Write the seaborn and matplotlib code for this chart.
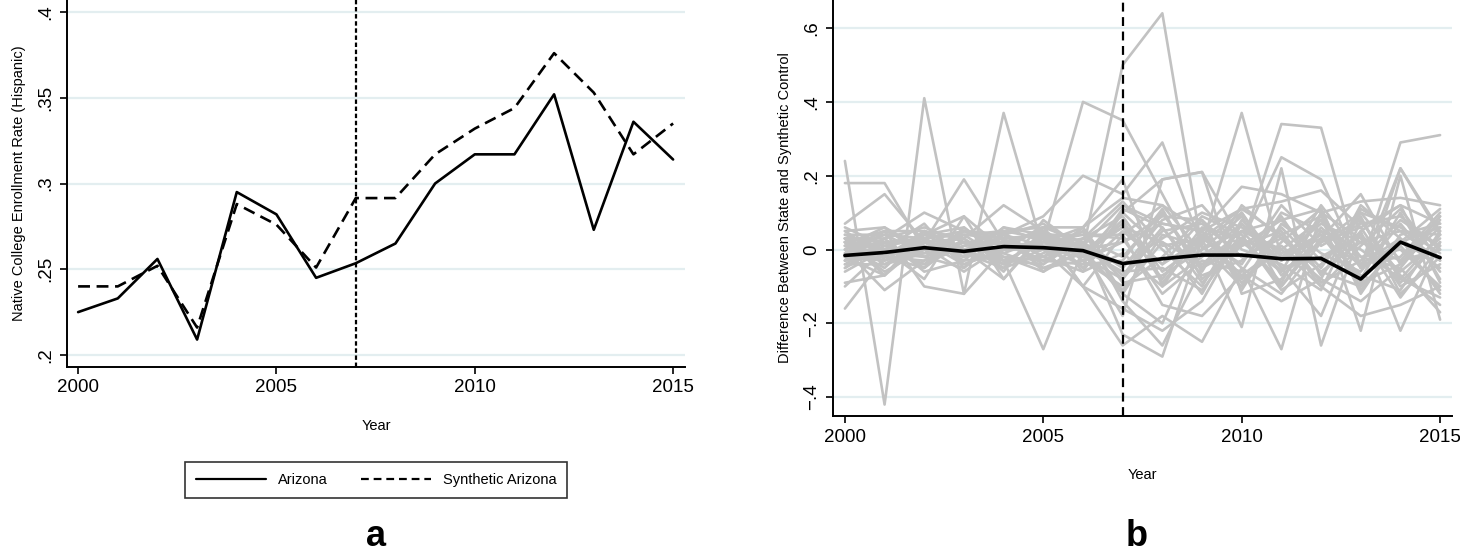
import numpy as np
import pandas as pd
import matplotlib
matplotlib.use("Agg")
import matplotlib.pyplot as plt
from matplotlib.lines import Line2D
import seaborn as sns

# données
years = list(range(2000, 2016))
arizona = [0.225, 0.233, 0.256, 0.209, 0.295, 0.282, 0.245, 0.2535,
           0.265, 0.300, 0.317, 0.317, 0.352, 0.273, 0.336, 0.314]
synthetic_arizona = [0.240, 0.240, 0.252, 0.216, 0.288, 0.276, 0.251, 0.2915,
                     0.2915, 0.317, 0.332, 0.344, 0.376, 0.353, 0.317, 0.335]
arizona_gap = [-0.016, -0.008, 0.005, -0.005, 0.008, 0.005, -0.003, -0.038,
               -0.025, -0.015, -0.015, -0.025, -0.024, -0.080, 0.020, -0.022]

# écarts placebo (un état par ligne)
placebo_gaps = [
    [0.24, -0.42, 0.41, -0.12, 0.37, 0.00, 0.02, -0.08, 0.10, -0.05, 0.03, -0.10, 0.05, 0.00, -0.08, 0.04],
    [0.18, 0.18, 0.00, 0.04, -0.03, 0.02, -0.01, 0.06, -0.04, 0.08, -0.02, 0.03, -0.06, 0.02, 0.05, -0.03],
    [0.07, 0.15, 0.02, 0.19, 0.02, 0.05, -0.02, 0.10, 0.19, 0.21, 0.02, 0.25, 0.19, -0.05, 0.22, 0.04],
    [-0.16, -0.02, 0.05, 0.03, 0.12, 0.05, 0.00, -0.12, -0.20, 0.04, -0.08, 0.00, 0.08, -0.02, 0.00, -0.10],
    [0.00, -0.11, -0.03, 0.02, -0.03, -0.27, 0.00, 0.50, 0.64, 0.00, 0.05, -0.06, 0.02, 0.10, -0.03, 0.00],
    [0.02, 0.05, -0.10, -0.12, 0.00, 0.02, 0.40, 0.35, 0.15, -0.05, 0.01, 0.34, 0.33, -0.05, 0.29, 0.31],
    [-0.05, 0.03, 0.10, 0.05, 0.04, 0.09, 0.20, 0.15, 0.29, 0.01, 0.37, -0.02, 0.03, 0.15, -0.04, 0.09],
    [0.03, -0.07, 0.04, 0.09, -0.08, 0.05, -0.10, -0.26, -0.18, -0.25, -0.05, -0.27, 0.10, -0.22, 0.20, -0.19],
    [-0.10, 0.00, 0.07, -0.05, 0.05, 0.06, 0.02, -0.23, -0.29, 0.03, -0.21, 0.22, -0.26, 0.05, -0.22, 0.02],
    [0.01, 0.06, -0.02, 0.04, 0.03, -0.04, 0.06, 0.19, -0.10, -0.02, 0.07, -0.03, 0.04, -0.10, 0.22, 0.05],
    [-0.03, 0.02, -0.05, 0.03, -0.06, 0.08, 0.00, -0.18, 0.19, 0.21, -0.12, -0.08, 0.06, -0.04, 0.03, -0.12],
    [0.03, -0.04, 0.02, -0.02, 0.04, -0.02, 0.06, -0.14, -0.26, -0.05, 0.10, -0.05, -0.18, 0.08, -0.07, -0.15],
    [0.02, 0.01, 0.03, -0.02, 0.04, 0.01, 0.00, 0.06, 0.02, -0.04, 0.05, 0.08, -0.03, 0.04, -0.06, 0.03],
    [-0.02, -0.03, 0.00, 0.02, -0.01, 0.03, -0.02, -0.08, 0.05, 0.07, -0.02, 0.04, 0.09, -0.05, 0.02, 0.06],
    [0.04, 0.00, -0.04, 0.01, 0.02, -0.03, 0.03, 0.09, -0.06, 0.02, 0.10, -0.07, 0.02, 0.06, -0.10, -0.04],
    [-0.04, 0.02, 0.02, -0.04, 0.00, 0.00, -0.04, -0.03, 0.11, -0.08, 0.01, 0.05, -0.09, -0.03, 0.08, 0.01],
    [0.01, -0.05, 0.05, 0.00, -0.04, 0.04, 0.01, 0.12, 0.07, 0.05, -0.09, 0.02, 0.11, -0.12, 0.04, 0.07],
    [-0.01, 0.04, -0.01, 0.05, 0.03, -0.05, -0.03, -0.10, -0.02, 0.09, 0.04, -0.11, -0.04, 0.09, -0.12, -0.02],
    [0.03, 0.03, -0.06, -0.03, 0.06, 0.02, 0.04, 0.03, -0.12, -0.03, -0.06, 0.10, 0.05, -0.08, 0.10, -0.08],
    [-0.03, -0.02, 0.04, 0.06, -0.02, -0.06, 0.02, -0.05, 0.08, 0.12, 0.00, -0.04, -0.11, 0.11, 0.05, 0.04],
    [0.00, 0.05, 0.01, -0.06, 0.01, 0.06, -0.06, 0.10, 0.00, -0.10, 0.08, -0.02, 0.07, 0.02, -0.03, 0.09],
    [0.05, -0.02, -0.03, 0.02, -0.05, -0.01, 0.05, -0.12, 0.04, 0.01, -0.10, 0.07, -0.01, -0.06, 0.07, -0.06],
    [-0.05, 0.01, 0.03, 0.04, 0.05, 0.03, -0.01, 0.07, -0.08, 0.06, 0.03, -0.09, 0.10, 0.03, -0.09, 0.02],
    [0.02, -0.06, 0.00, -0.01, -0.03, -0.04, 0.03, -0.02, 0.10, -0.06, 0.12, 0.03, -0.06, -0.10, 0.01, -0.11],
    [-0.02, 0.03, 0.06, 0.02, 0.02, 0.05, -0.05, 0.05, -0.04, 0.03, -0.04, 0.12, 0.01, 0.07, 0.09, 0.00],
    [0.01, -0.01, -0.02, -0.05, 0.04, -0.02, 0.02, -0.07, 0.06, -0.09, 0.02, -0.06, 0.12, -0.02, -0.05, 0.08],
    [0.03, 0.02, 0.02, 0.03, -0.04, 0.00, -0.02, 0.08, -0.09, 0.04, -0.07, 0.01, -0.08, 0.12, 0.03, -0.05],
    [-0.04, -0.04, -0.01, 0.00, 0.03, 0.04, 0.01, -0.04, 0.03, 0.10, 0.06, -0.01, 0.04, -0.07, -0.11, 0.05],
    [0.04, 0.04, 0.03, -0.03, -0.02, -0.03, -0.04, 0.11, 0.06, -0.07, -0.03, 0.09, -0.07, 0.05, 0.12, -0.09],
    [-0.06, 0.00, -0.04, 0.05, 0.01, 0.02, 0.06, -0.09, -0.07, 0.00, 0.09, -0.10, 0.03, -0.04, -0.02, 0.10],
    [0.00, -0.03, 0.04, -0.01, -0.05, 0.05, -0.03, 0.02, 0.09, 0.08, -0.11, 0.06, -0.05, 0.10, 0.06, -0.01],
    [0.06, 0.01, -0.02, 0.01, 0.05, -0.06, 0.00, -0.06, -0.05, -0.11, 0.03, -0.03, 0.08, -0.09, -0.04, 0.06],
    [-0.03, 0.05, 0.05, -0.04, 0.00, 0.01, 0.03, 0.13, 0.01, 0.03, 0.11, 0.04, -0.10, 0.01, 0.11, -0.03],
    [0.02, -0.02, -0.05, 0.06, -0.03, -0.02, -0.06, -0.01, -0.10, 0.05, -0.05, -0.12, 0.02, 0.08, -0.08, -0.13],
    [-0.01, 0.00, 0.01, -0.02, 0.06, 0.04, 0.04, 0.04, 0.12, -0.01, 0.01, 0.08, 0.11, -0.11, 0.02, 0.11],
    [0.05, 0.06, 0.00, 0.00, -0.01, -0.05, -0.01, -0.11, 0.02, -0.12, 0.07, -0.05, -0.02, 0.04, -0.13, 0.01],
    [-0.09, -0.07, 0.05, 0.00, 0.02, 0.00, -0.10, -0.16, -0.22, -0.14, 0.05, 0.00, -0.10, -0.18, -0.15, -0.10],
    [0.02, 0.00, -0.08, 0.09, 0.00, 0.06, 0.06, 0.14, 0.12, 0.05, 0.17, 0.15, 0.10, 0.13, 0.14, 0.12],
    [-0.02, -0.07, 0.02, 0.00, -0.08, 0.04, -0.10, 0.04, -0.15, -0.18, -0.07, -0.14, -0.08, -0.14, -0.05, -0.17],
    [0.03, 0.02, 0.03, 0.05, 0.04, 0.07, 0.00, 0.02, 0.07, 0.05, 0.11, 0.13, 0.16, 0.06, 0.12, 0.07],
]

treat_year = 2007
left_ticks = [0.2, 0.25, 0.3, 0.35, 0.4]
left_ticklabels = [".2", ".25", ".3", ".35", ".4"]
right_ticks = [-0.4, -0.2, 0.0, 0.2, 0.4, 0.6]
right_ticklabels = ["\u2212.4", "\u2212.2", "0", ".2", ".4", ".6"]
year_ticks = [2000, 2005, 2010, 2015]

sns.set_style("white")
plt.rcParams["font.family"] = ["Liberation Sans", "DejaVu Sans"]
plt.rcParams["text.color"] = "black"
plt.rcParams["axes.labelcolor"] = "black"
plt.rcParams["xtick.color"] = "black"
plt.rcParams["ytick.color"] = "black"

df_az = pd.DataFrame({"year": years, "Arizona": arizona,
                      "Synthetic Arizona": synthetic_arizona})
rows = []
for i, gaps in enumerate(placebo_gaps):
    for yr, g in zip(years, gaps):
        rows.append({"state": i, "year": yr, "gap": g})
df_placebo = pd.DataFrame(rows)
df_gap = pd.DataFrame({"year": years, "gap": arizona_gap})

fig = plt.figure(figsize=(14.6, 5.52), dpi=100)
ax1 = fig.add_axes([67 / 1460, 1 - 367 / 552, 618 / 1460, 367 / 552])
ax2 = fig.add_axes([833 / 1460, 1 - 416 / 552, 619 / 1460, 416 / 552])

grid_col = "#e3eef0"


def style_axis(ax, yticks, ylabels, ylabel):
    for s in ["top", "right"]:
        ax.spines[s].set_visible(False)
    for s in ["left", "bottom"]:
        ax.spines[s].set_color("black")
        ax.spines[s].set_linewidth(1.4)
    ax.set_yticks(yticks)
    ax.set_yticklabels(ylabels, rotation=90, va="center", fontsize=13.5)
    ax.set_xticks(year_ticks)
    ax.set_xticklabels([str(t) for t in year_ticks], fontsize=13.5)
    ax.tick_params(axis="both", direction="out", length=5, width=1.2,
                   color="black", left=True, bottom=True, pad=4)
    ax.yaxis.grid(True, color=grid_col, linewidth=1.6)
    ax.xaxis.grid(False)
    ax.set_axisbelow(True)
    ax.set_xlabel("Year", fontsize=10.5, labelpad=16)
    ax.set_ylabel(ylabel, fontsize=10.5, labelpad=8)


# panneau a
sns.lineplot(data=df_az, x="year", y="Arizona", ax=ax1, color="black",
             linewidth=1.9)
sns.lineplot(data=df_az, x="year", y="Synthetic Arizona", ax=ax1,
             color="black", linewidth=1.9, linestyle=(0, (4.5, 2.5)))
ax1.axvline(treat_year, color="black", linewidth=1.6, linestyle=(0, (2, 1.2)))
ax1.set_xlim(1999.72, 2015.3)
ax1.set_ylim(0.193, 0.407)
style_axis(ax1, left_ticks, left_ticklabels,
           "Native College Enrollment Rate (Hispanic)")

handles = [Line2D([], [], color="black", linewidth=1.6),
           Line2D([], [], color="black", linewidth=1.6, linestyle=(0, (3.5, 2.2)))]
leg = fig.legend(handles, ["Arizona", "Synthetic Arizona"], ncol=2,
                 loc="center", bbox_to_anchor=(376 / 1460, 1 - 480 / 552),
                 fontsize=10.5, frameon=True, fancybox=False,
                 edgecolor="black", handlelength=4.8, columnspacing=2.3,
                 borderpad=0.75, handletextpad=0.8, borderaxespad=0)
leg.get_frame().set_linewidth(1.2)

# panneau b
sns.lineplot(data=df_placebo, x="year", y="gap", units="state",
             estimator=None, ax=ax2, color="#c2c2c2", linewidth=1.9)
sns.lineplot(data=df_gap, x="year", y="gap", ax=ax2, color="black",
             linewidth=2.6)
ax2.axvline(treat_year, color="black", linewidth=1.6, linestyle=(0, (4, 2.5)))
ax2.set_xlim(1999.7, 2015.3)
ax2.set_ylim(-0.451, 0.676)
style_axis(ax2, right_ticks, right_ticklabels,
           "Difference Between State and Synthetic Control")

fig.text(376 / 1460, 1 - 537 / 552, "a", ha="center", va="center",
         fontsize=26, fontweight="bold")
fig.text(1137 / 1460, 1 - 537 / 552, "b", ha="center", va="center",
         fontsize=26, fontweight="bold")

fig.savefig("out.png", dpi=100)
